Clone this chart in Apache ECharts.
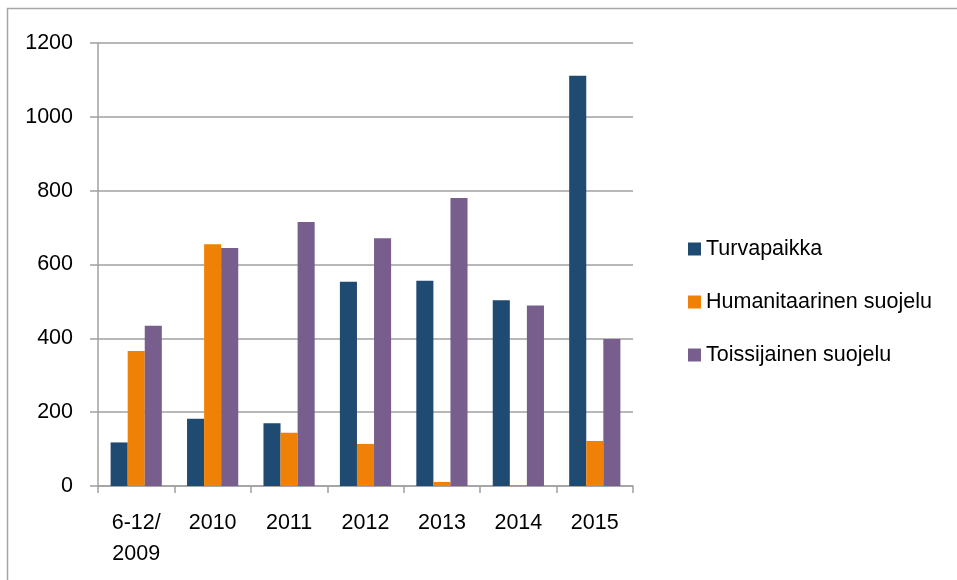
<!DOCTYPE html>
<html lang="fi">
<head>
    <meta charset="UTF-8">
    <title>Turvapaikka ja suojelu</title>
    <script src="https://cdn.jsdelivr.net/npm/echarts@6/dist/echarts.min.js"></script>
    <style>
        html, body { margin: 0; padding: 0; background: #fff; }
        #chart { width: 957px; height: 580px; }
    </style>
</head>
<body>
    <div id="chart"></div>
    <script>
        // data
        var categories = ['6-12/\n2009', '2010', '2011', '2012', '2013', '2014', '2015'];
        var turvapaikka = [118, 182, 170, 553, 556, 503, 1111];
        var humanitaarinen = [366, 655, 144, 114, 11, 2, 122];
        var toissijainen = [434, 645, 715, 671, 780, 489, 398];
        var yTicks = [0, 200, 400, 600, 800, 1000, 1200];

        var chart = echarts.init(document.getElementById('chart'));
        var txt = { fontFamily: 'Liberation Sans, Arial, sans-serif', fontSize: 21.5, color: '#000' };

        var option = {
            animation: false,
            // outer frame of the chart area
            graphic: [{
                type: 'rect',
                shape: { x: 7.5, y: 8.5, width: 1000, height: 1000 },
                style: { fill: 'none', stroke: '#a6a6a6', lineWidth: 1.5 },
                silent: true
            }],
            legend: {
                orient: 'vertical',
                left: 683,
                top: 233,
                itemWidth: 13,
                itemHeight: 13,
                itemGap: 31,
                icon: 'rect',
                textStyle: txt,
                data: ['Turvapaikka', 'Humanitaarinen suojelu', 'Toissijainen suojelu']
            },
            grid: { left: 98, top: 43, width: 535, height: 443 },
            xAxis: {
                type: 'category',
                data: categories,
                axisLine: { lineStyle: { color: '#a0a0a0', width: 1.5 } },
                axisTick: { show: true, length: 7, lineStyle: { color: '#a0a0a0', width: 1.5 } },
                axisLabel: Object.assign({ margin: 22, lineHeight: 31 }, txt)
            },
            yAxis: {
                type: 'value',
                min: yTicks[0],
                max: yTicks[yTicks.length - 1],
                interval: yTicks[1] - yTicks[0],
                axisLine: { show: true, lineStyle: { color: '#a0a0a0', width: 1.5 } },
                axisTick: { show: true, length: 8, lineStyle: { color: '#a0a0a0', width: 1.5 } },
                splitLine: { lineStyle: { color: '#a0a0a0', width: 1.5 } },
                axisLabel: Object.assign({ margin: 25, formatter: function (v) { return String(v); } }, txt)
            },
            series: [{
                name: 'Turvapaikka',
                type: 'bar',
                data: turvapaikka,
                barGap: '0%',
                barCategoryGap: '33%',
                itemStyle: { color: '#1f4a72' }
            }, {
                name: 'Humanitaarinen suojelu',
                type: 'bar',
                data: humanitaarinen,
                itemStyle: { color: '#ef8106' }
            }, {
                name: 'Toissijainen suojelu',
                type: 'bar',
                data: toissijainen,
                itemStyle: { color: '#775e8c' }
            }]
        };
        chart.setOption(option);
    </script>
</body>
</html>
